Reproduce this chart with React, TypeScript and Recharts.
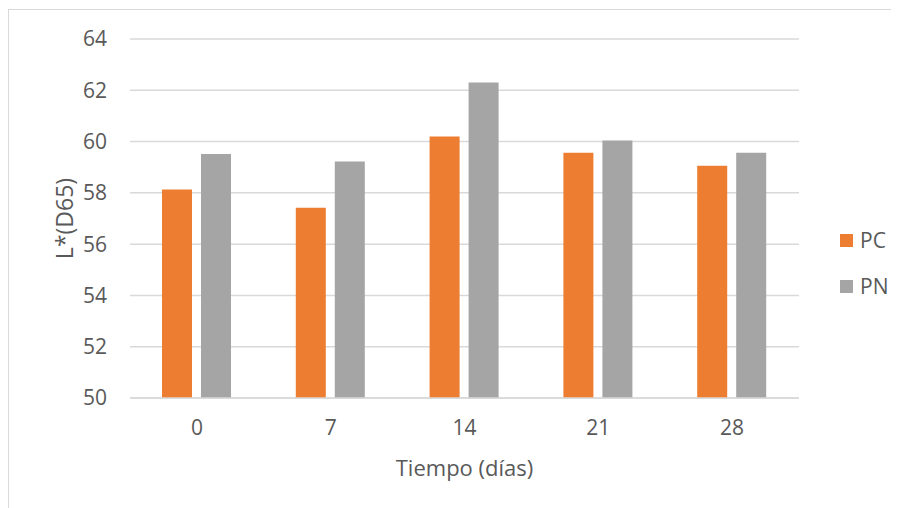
import { BarChart, Bar, XAxis, YAxis, CartesianGrid, Legend } from 'recharts';

// Sampling days and L* readings per treatment
const days = ['0', '7', '14', '21', '28'];
const pcValues = [58.13, 57.42, 60.2, 59.56, 59.06];
const pnValues = [59.52, 59.22, 62.3, 60.04, 59.56];
const yTicks = [50, 52, 54, 56, 58, 60, 62, 64];

const ORANGE = '#ED7D31';
const GRAY = '#A5A5A5';
const TEXT = '#595959';
const FONT = '"Open Sans", "Noto Sans", sans-serif';

const data = days.map((d, i) => ({ name: d, PC: pcValues[i], PN: pnValues[i] }));

const YLabel = ({ viewBox }: any) => {
  const cx = 56;
  const cy = viewBox.y + viewBox.height / 2;
  return (
    <text
      x={cx}
      y={cy}
      transform={`rotate(-90, ${cx}, ${cy})`}
      textAnchor="middle"
      dy="0.35em"
      fill={TEXT}
      fontSize={23}
      fontFamily={FONT}
    >
      L*(D65)
    </text>
  );
};

const LegendBox = () => (
  <div style={{ fontFamily: FONT, fontSize: 21, color: TEXT }}>
    {[
      { name: 'PC', color: ORANGE },
      { name: 'PN', color: GRAY },
    ].map((item) => (
      <div key={item.name} style={{ display: 'flex', alignItems: 'center', height: 46 }}>
        <span style={{ width: 13, height: 13, background: item.color, marginRight: 7, display: 'inline-block' }} />
        <span>{item.name}</span>
      </div>
    ))}
  </div>
);

export default function App() {
  return (
    <div
      style={{
        marginTop: 1,
        width: 891,
        height: 499,
        borderTop: '1.5px solid #d9d9d9',
        borderLeft: '1.5px solid #d9d9d9',
        boxSizing: 'border-box',
        background: '#fff',
      }}
    >
      <BarChart
        width={889}
        height={492}
        data={data}
        margin={{ top: 29, right: 99, left: 0, bottom: 14 }}
        barSize={30}
        barGap={9}
      >
        <CartesianGrid vertical={false} stroke="#d9d9d9" strokeWidth={1.5} />
        <XAxis
          dataKey="name"
          height={90}
          axisLine={{ stroke: '#d9d9d9', strokeWidth: 1.5 }}
          tickLine={false}
          tickSize={0}
          tickMargin={22}
          tick={{ fill: TEXT, fontSize: 21, fontFamily: FONT }}
          label={{ value: 'Tiempo (días)', position: 'insideBottom', offset: 12, fill: TEXT, fontSize: 22, fontFamily: FONT }}
        />
        <YAxis
          width={121}
          domain={[50, 64]}
          ticks={yTicks}
          axisLine={false}
          tickLine={false}
          tickSize={0}
          tickMargin={23}
          tick={{ fill: TEXT, fontSize: 21, fontFamily: FONT }}
          label={<YLabel />}
        />
        <Legend
          layout="vertical"
          align="center"
          verticalAlign="middle"
          content={<LegendBox />}
          wrapperStyle={{ left: 831, top: 207, width: 60 }}
        />
        <Bar dataKey="PC" fill={ORANGE} isAnimationActive={false} />
        <Bar dataKey="PN" fill={GRAY} isAnimationActive={false} />
      </BarChart>
    </div>
  );
}
